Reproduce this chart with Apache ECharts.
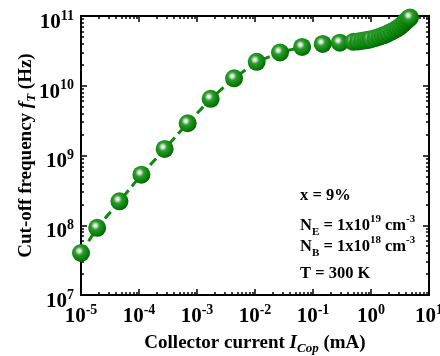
<!DOCTYPE html>
<html>
<head>
<meta charset="utf-8">
<script src="https://cdn.jsdelivr.net/npm/echarts@6/dist/echarts.min.js"></script>
<style>
html,body{margin:0;padding:0;background:#fff;}
#chart{width:440px;height:356px;}
</style>
</head>
<body>
<div id="chart"></div>
<script>
// Collector current (mA)
var currentMA = [1e-5, 1.9e-5, 4.6e-5, 1.1e-4, 2.77e-4, 6.9e-4, 1.72e-3, 4.35e-3, 1.07e-2, 2.7e-2, 6.5e-2, 0.147, 0.29, 0.5,
  0.6, 0.7, 0.8, 0.9, 1.0, 1.2, 1.4, 1.6, 1.8, 2.0, 2.3, 2.6, 2.9, 3.2, 3.5, 3.8, 4.1, 4.4, 4.7];
// Cut-off frequency (Hz)
var fT = [4.0e7, 9.2e7, 2.2e8, 5.3e8, 1.24e9, 2.9e9, 6.5e9, 1.28e10, 2.2e10, 3.0e10, 3.6e10, 3.97e10, 4.14e10, 4.26e10,
  4.32e10, 4.4e10, 4.48e10, 4.56e10, 4.65e10, 4.85e10, 5.05e10, 5.25e10, 5.45e10, 5.7e10, 6.0e10, 6.35e10, 6.7e10, 7.1e10, 7.6e10, 8.1e10, 8.6e10, 9.1e10, 9.5e10];

var xMajor = [1e-5, 1e-4, 1e-3, 1e-2, 1e-1, 1, 10];
var yMajor = [1e7, 1e8, 1e9, 1e10, 1e11];
var annotationLines = [
  'x = 9%',
  'N{sub|E} = 1x10{sup|19} cm{sup|-3}',
  'N{sub|B} = 1x10{sup|18} cm{sup|-3}',
  'T = 300 K'
];

function minorsOf(majors) {
  var out = [];
  for (var i = 0; i < majors.length - 1; i++) {
    for (var k = 2; k <= 9; k++) out.push(majors[i] * k);
  }
  return out;
}
var xMinor = minorsOf(xMajor);
var yMinor = minorsOf(yMajor);

var FONT = '"Liberation Serif","Times New Roman",serif';
var GREEN = '#0a8a0a';

function expLabel(v) {
  var e = Math.round(Math.log(v) / Math.LN10);
  return '{b|10}{s|' + e + '}';
}
var labelRich = {
  b: {fontFamily: FONT, fontWeight: 'bold', fontSize: 21, color: '#000', lineHeight: 24, verticalAlign: 'bottom'},
  s: {fontFamily: FONT, fontWeight: 'bold', fontSize: 14, color: '#000', lineHeight: 24, verticalAlign: 'top'}
};

function xAxisDef(pos, ticks, len, showLabel, extra) {
  var a = {
    type: 'log', logBase: 10, min: 1e-5, max: 10, position: pos,
    axisLine: {show: true, onZero: false, lineStyle: {color: '#000', width: 2}},
    axisTick: {show: true, inside: true, length: len, customValues: ticks, lineStyle: {color: '#000', width: 1.5}},
    axisLabel: {show: false},
    splitLine: {show: false},
    minorTick: {show: false}
  };
  if (showLabel) {
    a.axisLabel = {show: true, customValues: xMajor, margin: 8, formatter: expLabel, rich: labelRich};
  }
  if (extra) for (var k in extra) a[k] = extra[k];
  return a;
}
function yAxisDef(pos, ticks, len, showLabel, extra) {
  var a = {
    type: 'log', logBase: 10, min: 1e7, max: 1e11, position: pos,
    axisLine: {show: true, onZero: false, lineStyle: {color: '#000', width: 2}},
    axisTick: {show: true, inside: true, length: len, customValues: ticks, lineStyle: {color: '#000', width: 1.5}},
    axisLabel: {show: false},
    splitLine: {show: false},
    minorTick: {show: false}
  };
  if (showLabel) {
    a.axisLabel = {show: true, customValues: yMajor, margin: 7, padding: [10, 0, 0, 0], formatter: expLabel, rich: labelRich};
  }
  if (extra) for (var k in extra) a[k] = extra[k];
  return a;
}

var chart = echarts.init(document.getElementById('chart'), null, {renderer: 'canvas'});
chart.setOption({
  backgroundColor: '#fff',
  animation: false,
  grid: {left: 81, right: 11, top: 16, bottom: 61, containLabel: false, outerBoundsMode: 'none'},
  xAxis: [
    xAxisDef('bottom', xMajor, 6, true, {
      name: '{t|Collector current }{i|I}{sub|Cop}{t| (mA)}',
      nameLocation: 'middle', nameGap: 36, nameMoveOverlap: false,
      nameTextStyle: {rich: {
        t: {fontFamily: FONT, fontWeight: 'bold', fontSize: 19, color: '#000', lineHeight: 24},
        i: {fontFamily: FONT, fontWeight: 'bold', fontStyle: 'italic', fontSize: 19, color: '#000', lineHeight: 24},
        sub: {fontFamily: FONT, fontWeight: 'bold', fontStyle: 'italic', fontSize: 13, color: '#000', lineHeight: 24, verticalAlign: 'bottom'}
      }}
    }),
    xAxisDef('bottom', xMinor, 3, false),
    xAxisDef('top', xMajor, 6, false),
    xAxisDef('top', xMinor, 3, false)
  ],
  yAxis: [
    yAxisDef('left', yMajor, 6, true, {
      name: '{t|Cut-off frequency }{i|f}{sub|T}{t| (Hz)}',
      nameLocation: 'middle', nameGap: 43, nameMoveOverlap: false,
      nameTextStyle: {rich: {
        t: {fontFamily: FONT, fontWeight: 'bold', fontSize: 19, color: '#000', lineHeight: 24},
        i: {fontFamily: FONT, fontWeight: 'bold', fontStyle: 'italic', fontSize: 19, color: '#000', lineHeight: 24},
        sub: {fontFamily: FONT, fontWeight: 'bold', fontStyle: 'italic', fontSize: 13, color: '#000', lineHeight: 24, verticalAlign: 'bottom'}
      }}
    }),
    yAxisDef('left', yMinor, 3, false),
    yAxisDef('right', yMajor, 6, false),
    yAxisDef('right', yMinor, 3, false)
  ],
  series: [{
    type: 'line',
    xAxisIndex: 0, yAxisIndex: 0,
    data: currentMA.map(function (x, i) { return [x, fT[i]]; }),
    showAllSymbol: true,
    symbol: 'circle',
    symbolSize: 18,
    clip: true,
    lineStyle: {color: GREEN, width: 3, type: [9, 5]},
    itemStyle: {
      color: {
        type: 'radial', x: 0.4, y: 0.38, r: 0.62,
        colorStops: [
          {offset: 0, color: '#ffffff'},
          {offset: 0.14, color: '#cfe8cf'},
          {offset: 0.38, color: '#2f9a2f'},
          {offset: 0.75, color: '#0a850a'},
          {offset: 1, color: '#056605'}
        ]
      },
      borderWidth: 0
    },
    z: 3
  }],
  graphic: annotationLines.map(function (t, i) {
    var ys = [196, 226, 247, 274];
    return {
      type: 'text', left: 300, top: ys[i] - 12,
      style: {
        text: t,
        font: 'bold 16.5px ' + FONT,
        fill: '#000',
        rich: {
          sup: {fontFamily: FONT, fontWeight: 'bold', fontSize: 11, fill: '#000', lineHeight: 24, verticalAlign: 'top'},
          sub: {fontFamily: FONT, fontWeight: 'bold', fontSize: 11, fill: '#000', lineHeight: 24, verticalAlign: 'bottom'}
        },
        lineHeight: 24
      }
    };
  })
});
</script>
</body>
</html>
